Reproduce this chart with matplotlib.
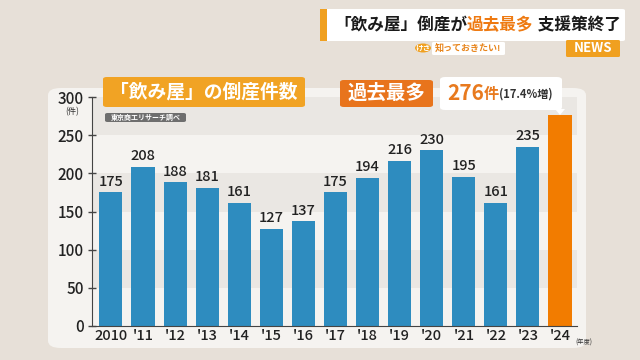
import matplotlib
matplotlib.use("Agg")
import matplotlib.pyplot as plt
from matplotlib.patches import FancyBboxPatch, Rectangle, Polygon, Circle

plt.rcParams['font.family'] = ['Noto Sans CJK JP', 'DejaVu Sans']

years = ["2010", "'11", "'12", "'13", "'14", "'15", "'16", "'17", "'18", "'19", "'20", "'21", "'22", "'23", "'24"]
counts = [175, 208, 188, 181, 161, 127, 137, 175, 194, 216, 230, 195, 161, 235, 276]
yticks = [0, 50, 100, 150, 200, 250, 300]

W, H = 640, 360
fig = plt.figure(figsize=(6.4, 3.6), dpi=100)
fig.patch.set_facecolor('#E7E0D8')

def fx(px):
    return px / W

def fy(py):
    return 1 - py / H

def box(x0, y0, x1, y1, color, pad=0.004, zorder=1, ec='none', lw=0):
    p = FancyBboxPatch((fx(x0), fy(y1)), fx(x1) - fx(x0), fy(y0) - fy(y1),
                       boxstyle=f"round,pad=0,rounding_size={pad}",
                       transform=fig.transFigure, fc=color, ec=ec, lw=lw, zorder=zorder)
    fig.add_artist(p)
    return p

# panel
box(48, 88, 586, 348, '#F5F3F0', pad=0.02, zorder=0)

ax = fig.add_axes([fx(92), fy(326), fx(577) - fx(92), fy(97) - fy(326)])
ax.set_facecolor('none')
x = list(range(len(years)))
colors = ['#2E8CBF'] * (len(years) - 1) + ['#F27C00']
ax.set_xlim(-0.59, 14.53)
ax.set_ylim(0, 300)
for lo in (50, 150, 250):
    ax.axhspan(lo, lo + 50, color='#EAE7E3', zorder=0, lw=0)
ax.bar(x, counts, width=0.72, color=colors, zorder=2)
for xi, v in zip(x[:-1], counts[:-1]):
    ax.text(xi, v + 5, str(v), ha='center', va='bottom', fontsize=10.5,
            fontweight='medium', color='#222222', zorder=3)
for s in ('top', 'right'):
    ax.spines[s].set_visible(False)
ax.spines['left'].set_color('#444444')
ax.spines['bottom'].set_color('#444444')
ax.set_yticks(yticks)
ax.set_yticklabels([str(t) for t in yticks], fontsize=11, color='#222222', fontweight='medium')
ax.set_xticks(x)
ax.set_xticklabels(years, fontsize=10.5, color='#222222', fontweight='medium')
ax.tick_params(axis='y', direction='inout', length=6, width=1, color='#444444', pad=3)
ax.tick_params(axis='x', length=0, pad=2)
for lbl in ax.get_yticklabels():
    if lbl.get_text() == '300':
        lbl.set_y(303)

fig.text(fx(72), fy(112), '(件)', ha='center', va='center', fontsize=6, color='#333333')
fig.text(fx(575), fy(343), '(年度)', ha='left', va='center', fontsize=4.5, color='#333333')

# title box
box(103, 77, 305, 107, '#F1A324', pad=0.006, zorder=4)
fig.text(fx(204), fy(92.5), '「飲み屋」の倒産件数', ha='center', va='center', fontsize=13.5,
         color='white', fontweight='bold', zorder=5)
box(105, 113, 186, 122, '#6E6E6E', pad=0.004, zorder=4)
fig.text(fx(145.5), fy(117.5), '東京商工リサーチ調べ', ha='center', va='center', fontsize=5,
         color='white', fontweight='bold', zorder=5)

box(340, 80, 433, 107, '#E8741C', pad=0.006, zorder=4)
fig.text(fx(386.5), fy(93.5), '過去最多', ha='center', va='center', fontsize=14,
         color='white', fontweight='bold', zorder=5)

# callout
box(440, 77, 562, 110, 'white', pad=0.008, zorder=4)
fig.add_artist(Polygon([(fx(555), fy(109)), (fx(565), fy(109)), (fx(560), fy(115))],
                       closed=True, transform=fig.transFigure, fc='white', ec='none', zorder=4))

fig.canvas.draw()
renderer = fig.canvas.get_renderer()

def seq(x0, ypx, parts, gap=0):
    cur = fx(x0)
    for txt, col, fs in parts:
        t = fig.text(cur, fy(ypx), txt, ha='left', va='center', fontsize=fs, color=col,
                     fontweight='bold', zorder=6)
        bb = t.get_window_extent(renderer=renderer)
        cur += bb.width / W + gap / W

seq(447, 94, [('276', '#E87A1E', 15), ('件', '#E87A1E', 11), ('(17.4%増)', '#333333', 8)])

# top-right headline
box(322, 9, 625, 41, 'white', pad=0.004, zorder=4)
fig.add_artist(Rectangle((fx(320), fy(41)), fx(7), fy(9) - fy(41), transform=fig.transFigure,
                         fc='#F0A020', ec='none', zorder=5))
seq(334, 25, [('「飲み屋」倒産が', '#1A1A1A', 12), ('過去最多', '#EE7A12', 12), (' 支援策終了', '#1A1A1A', 12)])

fig.add_artist(Circle((fx(423), fy(48)), fx(8), transform=fig.transFigure, fc='#F0A020',
                      ec='none', zorder=5))
fig.text(fx(423), fy(48), 'けさ', ha='center', va='center', fontsize=5.5, color='white',
         fontweight='bold', zorder=6)
box(432, 42, 505, 55, 'white', pad=0.003, zorder=4)
fig.text(fx(468), fy(48.5), '知っておきたい!', ha='center', va='center', fontsize=6.5,
         color='#E8841A', fontweight='bold', zorder=6)
box(566, 40, 620, 57, '#F0A020', pad=0.003, zorder=4)
fig.text(fx(593), fy(48.5), 'NEWS', ha='center', va='center', fontsize=9.5,
         color='white', fontweight='bold', zorder=6)

fig.savefig('out.png', dpi=100, facecolor=fig.get_facecolor())
